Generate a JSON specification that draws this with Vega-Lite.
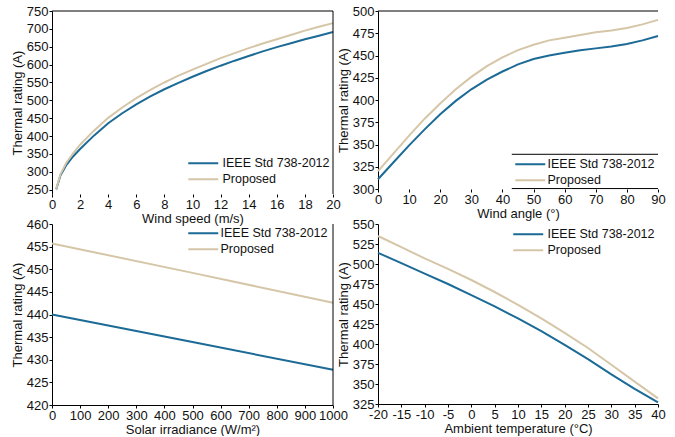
{
  "$schema": "https://vega.github.io/schema/vega-lite/v6.json",
  "padding": {"left": 11, "top": 5, "right": 0, "bottom": 0},
  "background": "white",
  "config": {
    "font": "Liberation Sans",
    "view": {"stroke": null},
    "axis": {"labelFont": "Liberation Sans", "titleFont": "Liberation Sans", "labelFontSize": 13, "titleFontSize": 13, "titleFontWeight": "normal", "labelColor": "#111", "titleColor": "#111", "domainColor": "#000", "tickColor": "#000", "grid": false, "tickSize": 3, "labelPadding": 1, "titlePadding": 1, "labelOverlap": false, "labelFlush": false, "format": "d"},
    "axisY": {"titlePadding": 2},
    "legend": {"orient": "none", "title": null, "labelFont": "Liberation Sans", "labelFontSize": 12.5, "labelColor": "#111", "symbolType": "M-3,0H3", "symbolSize": 100, "symbolStrokeWidth": 2, "rowPadding": 3, "padding": 0, "labelOffset": 12}
  },
  "datasets": {
    "ws": [
      {"x": 0.3, "series": "IEEE Std 738-2012", "rating": 251},
      {"x": 0.6, "series": "IEEE Std 738-2012", "rating": 290},
      {"x": 1, "series": "IEEE Std 738-2012", "rating": 318},
      {"x": 1.5, "series": "IEEE Std 738-2012", "rating": 343},
      {"x": 2, "series": "IEEE Std 738-2012", "rating": 364},
      {"x": 3, "series": "IEEE Std 738-2012", "rating": 402},
      {"x": 4, "series": "IEEE Std 738-2012", "rating": 436},
      {"x": 5, "series": "IEEE Std 738-2012", "rating": 464},
      {"x": 6, "series": "IEEE Std 738-2012", "rating": 489},
      {"x": 7, "series": "IEEE Std 738-2012", "rating": 511},
      {"x": 8, "series": "IEEE Std 738-2012", "rating": 531},
      {"x": 9, "series": "IEEE Std 738-2012", "rating": 549},
      {"x": 10, "series": "IEEE Std 738-2012", "rating": 566},
      {"x": 11, "series": "IEEE Std 738-2012", "rating": 582},
      {"x": 12, "series": "IEEE Std 738-2012", "rating": 597},
      {"x": 13, "series": "IEEE Std 738-2012", "rating": 611},
      {"x": 14, "series": "IEEE Std 738-2012", "rating": 624},
      {"x": 15, "series": "IEEE Std 738-2012", "rating": 637},
      {"x": 16, "series": "IEEE Std 738-2012", "rating": 649},
      {"x": 17, "series": "IEEE Std 738-2012", "rating": 660},
      {"x": 18, "series": "IEEE Std 738-2012", "rating": 671},
      {"x": 19, "series": "IEEE Std 738-2012", "rating": 681},
      {"x": 20, "series": "IEEE Std 738-2012", "rating": 691},
      {"x": 0.3, "series": "Proposed", "rating": 252},
      {"x": 0.6, "series": "Proposed", "rating": 293},
      {"x": 1, "series": "Proposed", "rating": 324},
      {"x": 1.5, "series": "Proposed", "rating": 352},
      {"x": 2, "series": "Proposed", "rating": 376},
      {"x": 3, "series": "Proposed", "rating": 416},
      {"x": 4, "series": "Proposed", "rating": 451},
      {"x": 5, "series": "Proposed", "rating": 480},
      {"x": 6, "series": "Proposed", "rating": 506},
      {"x": 7, "series": "Proposed", "rating": 529},
      {"x": 8, "series": "Proposed", "rating": 550},
      {"x": 9, "series": "Proposed", "rating": 569},
      {"x": 10, "series": "Proposed", "rating": 586},
      {"x": 11, "series": "Proposed", "rating": 602},
      {"x": 12, "series": "Proposed", "rating": 618},
      {"x": 13, "series": "Proposed", "rating": 632},
      {"x": 14, "series": "Proposed", "rating": 646},
      {"x": 15, "series": "Proposed", "rating": 659},
      {"x": 16, "series": "Proposed", "rating": 671},
      {"x": 17, "series": "Proposed", "rating": 683},
      {"x": 18, "series": "Proposed", "rating": 695},
      {"x": 19, "series": "Proposed", "rating": 706},
      {"x": 20, "series": "Proposed", "rating": 716}
    ],
    "wa": [
      {"x": 0, "series": "IEEE Std 738-2012", "rating": 311},
      {"x": 5, "series": "IEEE Std 738-2012", "rating": 330},
      {"x": 10, "series": "IEEE Std 738-2012", "rating": 349},
      {"x": 15, "series": "IEEE Std 738-2012", "rating": 367},
      {"x": 20, "series": "IEEE Std 738-2012", "rating": 384},
      {"x": 25, "series": "IEEE Std 738-2012", "rating": 399},
      {"x": 30, "series": "IEEE Std 738-2012", "rating": 412},
      {"x": 35, "series": "IEEE Std 738-2012", "rating": 423},
      {"x": 40, "series": "IEEE Std 738-2012", "rating": 432},
      {"x": 45, "series": "IEEE Std 738-2012", "rating": 440},
      {"x": 50, "series": "IEEE Std 738-2012", "rating": 446},
      {"x": 55, "series": "IEEE Std 738-2012", "rating": 450},
      {"x": 60, "series": "IEEE Std 738-2012", "rating": 453},
      {"x": 65, "series": "IEEE Std 738-2012", "rating": 456},
      {"x": 70, "series": "IEEE Std 738-2012", "rating": 458},
      {"x": 75, "series": "IEEE Std 738-2012", "rating": 460},
      {"x": 80, "series": "IEEE Std 738-2012", "rating": 463},
      {"x": 85, "series": "IEEE Std 738-2012", "rating": 467},
      {"x": 90, "series": "IEEE Std 738-2012", "rating": 472},
      {"x": 0, "series": "Proposed", "rating": 320},
      {"x": 5, "series": "Proposed", "rating": 340},
      {"x": 10, "series": "Proposed", "rating": 360},
      {"x": 15, "series": "Proposed", "rating": 379},
      {"x": 20, "series": "Proposed", "rating": 396},
      {"x": 25, "series": "Proposed", "rating": 412},
      {"x": 30, "series": "Proposed", "rating": 426},
      {"x": 35, "series": "Proposed", "rating": 438},
      {"x": 40, "series": "Proposed", "rating": 448},
      {"x": 45, "series": "Proposed", "rating": 456},
      {"x": 50, "series": "Proposed", "rating": 462},
      {"x": 55, "series": "Proposed", "rating": 467},
      {"x": 60, "series": "Proposed", "rating": 470},
      {"x": 65, "series": "Proposed", "rating": 473},
      {"x": 70, "series": "Proposed", "rating": 476},
      {"x": 75, "series": "Proposed", "rating": 478},
      {"x": 80, "series": "Proposed", "rating": 481},
      {"x": 85, "series": "Proposed", "rating": 485},
      {"x": 90, "series": "Proposed", "rating": 490}
    ],
    "si": [
      {"x": 0, "series": "IEEE Std 738-2012", "rating": 440},
      {"x": 500, "series": "IEEE Std 738-2012", "rating": 433.9},
      {"x": 1000, "series": "IEEE Std 738-2012", "rating": 427.8},
      {"x": 0, "series": "Proposed", "rating": 455.7},
      {"x": 500, "series": "Proposed", "rating": 449.2},
      {"x": 1000, "series": "Proposed", "rating": 442.6}
    ],
    "at": [
      {"x": -20, "series": "IEEE Std 738-2012", "rating": 514},
      {"x": -15, "series": "IEEE Std 738-2012", "rating": 501},
      {"x": -10, "series": "IEEE Std 738-2012", "rating": 488},
      {"x": -5, "series": "IEEE Std 738-2012", "rating": 475},
      {"x": 0, "series": "IEEE Std 738-2012", "rating": 461},
      {"x": 5, "series": "IEEE Std 738-2012", "rating": 447},
      {"x": 10, "series": "IEEE Std 738-2012", "rating": 432},
      {"x": 15, "series": "IEEE Std 738-2012", "rating": 416},
      {"x": 20, "series": "IEEE Std 738-2012", "rating": 399},
      {"x": 25, "series": "IEEE Std 738-2012", "rating": 381},
      {"x": 30, "series": "IEEE Std 738-2012", "rating": 362},
      {"x": 35, "series": "IEEE Std 738-2012", "rating": 344},
      {"x": 40, "series": "IEEE Std 738-2012", "rating": 327},
      {"x": -20, "series": "Proposed", "rating": 535},
      {"x": -15, "series": "Proposed", "rating": 521},
      {"x": -10, "series": "Proposed", "rating": 507},
      {"x": -5, "series": "Proposed", "rating": 494},
      {"x": 0, "series": "Proposed", "rating": 480},
      {"x": 5, "series": "Proposed", "rating": 465},
      {"x": 10, "series": "Proposed", "rating": 449},
      {"x": 15, "series": "Proposed", "rating": 432},
      {"x": 20, "series": "Proposed", "rating": 414},
      {"x": 25, "series": "Proposed", "rating": 395},
      {"x": 30, "series": "Proposed", "rating": 374},
      {"x": 35, "series": "Proposed", "rating": 353},
      {"x": 40, "series": "Proposed", "rating": 332}
    ],
    "one": [{}]
  },
  "columns": 2,
  "spacing": {"row": 30, "column": 45},
  "bounds": "flush",
  "resolve": {"scale": {"color": "independent", "x": "independent", "y": "independent"}, "legend": {"color": "independent"}},
  "concat": [
    {
      "width": 281, "height": 183,
      "layer": [
        {
          "data": {"name": "ws"},
          "mark": {"type": "line", "strokeWidth": 2},
          "encoding": {
            "x": {"field": "x", "type": "quantitative", "scale": {"domain": [0, 20], "nice": false}, "axis": {"title": "Wind speed (m/s)", "values": [0, 2, 4, 6, 8, 10, 12, 14, 16, 18, 20], "domain": false}},
            "y": {"field": "rating", "type": "quantitative", "scale": {"domain": [238, 750], "nice": false, "zero": false}, "axis": {"title": "Thermal rating (A)", "values": [250, 300, 350, 400, 450, 500, 550, 600, 650, 700, 750]}},
            "color": {"field": "series", "type": "nominal", "scale": {"domain": ["IEEE Std 738-2012", "Proposed"], "range": ["#1c6a96", "#d6c6a8"]}, "legend": {"legendX": 145, "legendY": 146, "labelOffset": 13}}
          }
        },
        {"data": {"name": "one"}, "mark": {"type": "rule", "color": "#000", "strokeWidth": 1}, "encoding": {"y": {"datum": 750, "type": "quantitative", "axis": {"title": "Thermal rating (A)", "values": [250, 300, 350, 400, 450, 500, 550, 600, 650, 700, 750]}}}},
        {"data": {"name": "one"}, "mark": {"type": "rule", "color": "#000", "strokeWidth": 1}, "encoding": {"x": {"datum": 20, "type": "quantitative", "axis": {"title": "Wind speed (m/s)", "values": [0, 2, 4, 6, 8, 10, 12, 14, 16, 18, 20], "domain": false}}}}
      ]
    },
    {
      "width": 280, "height": 178,
      "layer": [
        {
          "data": {"name": "wa"},
          "mark": {"type": "line", "strokeWidth": 2},
          "encoding": {
            "x": {"field": "x", "type": "quantitative", "scale": {"domain": [0, 90], "nice": false}, "axis": {"title": "Wind angle (°)", "values": [0, 10, 20, 30, 40, 50, 60, 70, 80, 90], "domain": false}},
            "y": {"field": "rating", "type": "quantitative", "scale": {"domain": [300, 500], "nice": false, "zero": false}, "axis": {"title": "Thermal rating (A)", "values": [300, 325, 350, 375, 400, 425, 450, 475, 500]}},
            "color": {"field": "series", "type": "nominal", "scale": {"domain": ["IEEE Std 738-2012", "Proposed"], "range": ["#1c6a96", "#d6c6a8"]}, "legend": {"legendX": 146, "legendY": 147, "labelOffset": 11}}
          }
        },
        {"data": {"name": "one"}, "mark": {"type": "rule", "color": "#000", "strokeWidth": 1}, "encoding": {"y": {"datum": 500, "type": "quantitative", "axis": {"title": "Thermal rating (A)", "values": [300, 325, 350, 375, 400, 425, 450, 475, 500]}}}},
        {"data": {"name": "one"}, "mark": {"type": "rule", "color": "#000", "strokeWidth": 1}, "encoding": {
          "x": {"datum": 43, "type": "quantitative", "axis": {"title": "Wind angle (°)", "values": [0, 10, 20, 30, 40, 50, 60, 70, 80, 90], "domain": false}},
          "x2": {"datum": 90},
          "y": {"datum": 339, "type": "quantitative", "axis": {"title": "Thermal rating (A)", "values": [300, 325, 350, 375, 400, 425, 450, 475, 500]}}}},
        {"data": {"name": "one"}, "mark": {"type": "rule", "color": "#000", "strokeWidth": 1}, "encoding": {
          "x": {"datum": 43, "type": "quantitative", "axis": {"title": "Wind angle (°)", "values": [0, 10, 20, 30, 40, 50, 60, 70, 80, 90], "domain": false}},
          "x2": {"datum": 90},
          "y": {"datum": 300.5, "type": "quantitative", "axis": {"title": "Thermal rating (A)", "values": [300, 325, 350, 375, 400, 425, 450, 475, 500]}}}}
      ]
    },
    {
      "width": 281, "height": 181,
      "layer": [
        {
          "data": {"name": "si"},
          "mark": {"type": "line", "strokeWidth": 2},
          "encoding": {
            "x": {"field": "x", "type": "quantitative", "scale": {"domain": [0, 1000], "nice": false}, "axis": {"title": "Solar irradiance (W/m²)", "values": [0, 100, 200, 300, 400, 500, 600, 700, 800, 900, 1000]}},
            "y": {"field": "rating", "type": "quantitative", "scale": {"domain": [420, 460], "nice": false, "zero": false}, "axis": {"title": "Thermal rating (A)", "values": [420, 425, 430, 435, 440, 445, 450, 455, 460]}},
            "color": {"field": "series", "type": "nominal", "scale": {"domain": ["IEEE Std 738-2012", "Proposed"], "range": ["#1c6a96", "#d6c6a8"]}, "legend": {"legendX": 145, "legendY": 3, "labelOffset": 11}}
          }
        },
        {"data": {"name": "one"}, "mark": {"type": "rule", "color": "#000", "strokeWidth": 1}, "encoding": {"x": {"datum": 1000, "type": "quantitative", "axis": {"title": "Solar irradiance (W/m²)", "values": [0, 100, 200, 300, 400, 500, 600, 700, 800, 900, 1000]}}}}
      ]
    },
    {
      "width": 280, "height": 180,
      "layer": [
        {
          "data": {"name": "at"},
          "mark": {"type": "line", "strokeWidth": 2},
          "encoding": {
            "x": {"field": "x", "type": "quantitative", "scale": {"domain": [-20, 40], "nice": false}, "axis": {"title": "Ambient temperature (°C)", "values": [-20, -15, -10, -5, 0, 5, 10, 15, 20, 25, 30, 35, 40], "labelExpr": "replace(datum.label, '\u2212', '-')"}},
            "y": {"field": "rating", "type": "quantitative", "scale": {"domain": [325, 550], "nice": false, "zero": false}, "axis": {"title": "Thermal rating (A)", "values": [325, 350, 375, 400, 425, 450, 475, 500, 525, 550]}},
            "color": {"field": "series", "type": "nominal", "scale": {"domain": ["IEEE Std 738-2012", "Proposed"], "range": ["#1c6a96", "#d6c6a8"]}, "legend": {"legendX": 144, "legendY": 4, "labelOffset": 13}}
          }
        }
      ]
    }
  ]
}
